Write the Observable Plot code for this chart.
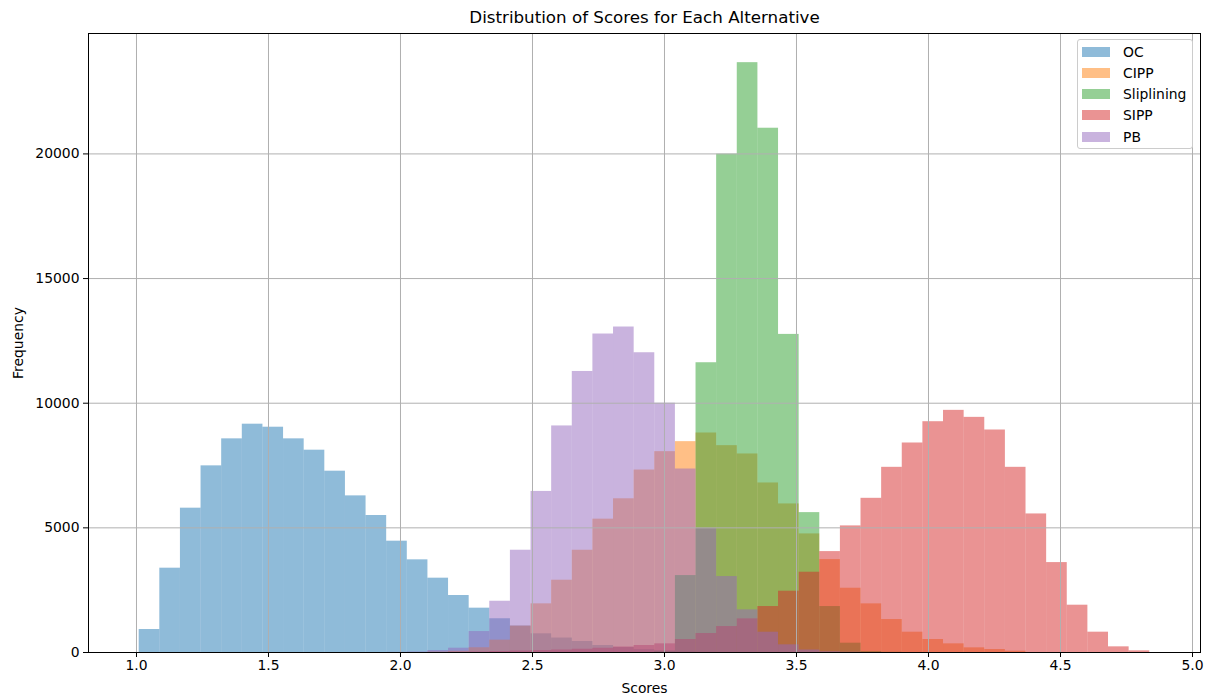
<!DOCTYPE html>
<html>
<head>
<meta charset="utf-8">
<script src="https://cdn.jsdelivr.net/npm/d3@7"></script>
<script src="https://cdn.jsdelivr.net/npm/@observablehq/plot@0.6"></script>
<style>
  html, body { margin: 0; padding: 0; background: #fff; }
  #wrap { position: relative; width: 1208px; height: 697px; font-family: "DejaVu Sans", sans-serif; }
  #legend { position: absolute; left: 1077px; top: 39px; width: 116px; height: 110px;
    border: 1px solid #cccccc; border-radius: 3px; background: rgba(255,255,255,0.8); box-sizing: border-box; }
  .item { position: absolute; left: 4px; height: 21px; display: flex; align-items: center; font-size: 13.9px; color: #000; }
  .sw { width: 28px; height: 10px; margin-right: 13px; }
</style>
</head>
<body>
<div id="wrap"><div id="chart"></div><div id="legend"></div></div>
<script>
// ---- data ----
const title = "Distribution of Scores for Each Alternative";
const xLabel = "Scores";
const yLabel = "Frequency";
const seriesNames = ["OC", "CIPP", "Sliplining", "SIPP", "PB"];
const seriesColors = ["#1f77b4", "#ff7f0e", "#2ca02c", "#d62728", "#9467bd"];
const xTicks = [1.0, 1.5, 2.0, 2.5, 3.0, 3.5, 4.0, 4.5, 5.0];
const yTicks = [0, 5000, 10000, 15000, 20000];

// common histogram bins (49 bins)
const binStart = 1.0102;
const binWidth = 0.07812;

const ocCounts = [922, 3382, 5789, 7487, 8570, 9158, 9037, 8570, 8115, 7273, 6283, 5495, 4465, 3717, 2981, 2286, 1778, 1354, 1060, 750, 580, 441, 281, 200, 120, 60, 30, 10,
  0,0,0,0,0,0,0,0,0,0,0,0,0,0,0,0,0,0,0,0,0];
const cippCounts = [0,0,0,0,0,0,0,0,0,0,0,0,0,0,
  20, 50, 190, 496, 1060, 1952, 2900, 4102, 5349, 6166, 7319, 8056, 8458, 8805, 8297, 7964, 6801, 5960, 4757, 3727, 2578, 1951, 1322, 815, 521, 347, 187, 120, 53,
  0,0,0,0,0,0];
const sliplCounts = [0,0,0,0,0,0,0,0,0,0,0,0,0,0,0,0,0,0,0,0,0,0,0,0,0,
  50, 3086, 11623, 19990, 23660, 21030, 12760, 5611, 1844, 374, 40, 10,
  0,0,0,0,0,0,0,0,0,0,0,0];
const sippCounts = [0,0,0,0,0,0,0,0,0,0,0,0,0,0,0,
  10, 20, 40, 60, 80, 100, 130, 170, 220, 281, 347, 521, 762, 1042, 1350, 1844, 2458, 3220, 4048, 5078, 6185, 7428, 8404, 9258, 9713, 9432, 8925, 7428, 5558, 3607, 1897, 815, 227, 67];
const pbCounts = [0,0,0,0,0,0,0,0,0,0,0,0,
  5, 20, 80, 172, 840, 2056, 4102, 6461, 9088, 11273, 12775, 13056, 12024, 10000, 7360, 4983, 3046, 1711, 814, 308, 100, 30, 10,
  0,0,0,0,0,0,0,0,0,0,0,0,0,0];

const allCounts = [ocCounts, cippCounts, sliplCounts, sippCounts, pbCounts];

// ---- build ----
function rows(counts) {
  return counts.map((c, i) => ({x1: binStart + i * binWidth, x2: binStart + (i + 1) * binWidth, count: c}))
               .filter(d => d.count > 0);
}

const gridStyle = {stroke: "#b0b0b0", strokeOpacity: 1, strokeWidth: 1};

const chart = Plot.plot({
  width: 1208,
  height: 697,
  marginLeft: 88,
  marginRight: 8,
  marginTop: 33,
  marginBottom: 45,
  style: {fontFamily: "DejaVu Sans", fontSize: "13.9px", color: "#000", background: "#fff", overflow: "visible"},
  x: {domain: [0.8182, 5.0303]},
  y: {domain: [0, 24830]},
  marks: [
    ...allCounts.map((counts, k) =>
      Plot.rectY(rows(counts), {x1: "x1", x2: "x2", y: "count", fill: seriesColors[k], fillOpacity: 0.5})),
    Plot.gridX(xTicks, gridStyle),
    Plot.gridY(yTicks, gridStyle),
    Plot.frame({stroke: "#000", strokeWidth: 1}),
    Plot.axisX(xTicks, {tickSize: 5, tickPadding: 3, tickFormat: d => d.toFixed(1), label: null, fontSize: 13.9}),
    Plot.axisY(yTicks, {tickSize: 5, tickPadding: 4, tickFormat: d => String(d), label: null, fontSize: 13.9}),
    Plot.text([xLabel], {text: d => d, frameAnchor: "bottom", lineAnchor: "middle", textAnchor: "middle", dy: 36, fontSize: 13.9}),
    Plot.text([yLabel], {text: d => d, frameAnchor: "left", lineAnchor: "middle", textAnchor: "middle", dx: -70, rotate: -90, fontSize: 13.9}),
    Plot.text([title], {text: d => d, frameAnchor: "top", lineAnchor: "middle", textAnchor: "middle", dy: -16, fontSize: 16.7})
  ]
});
document.getElementById("chart").appendChild(chart);

// legend
const legend = document.getElementById("legend");
seriesNames.forEach((name, k) => {
  const item = document.createElement("div");
  item.className = "item";
  item.style.top = (1 + k * 21.3) + "px";
  const sw = document.createElement("div");
  sw.className = "sw";
  sw.style.background = seriesColors[k];
  sw.style.opacity = 0.5;
  const label = document.createElement("span");
  label.textContent = name;
  item.appendChild(sw);
  item.appendChild(label);
  legend.appendChild(item);
});
</script>
</body>
</html>
